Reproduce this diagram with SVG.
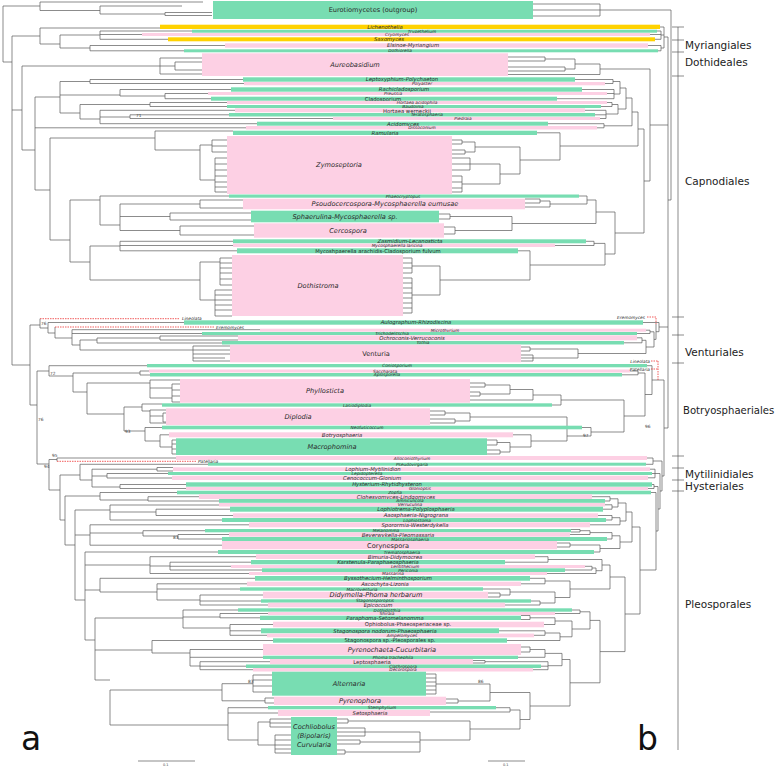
<svg xmlns="http://www.w3.org/2000/svg" width="778" height="766" viewBox="0 0 778 766">
<style>
.g{fill:#78DDB2}.p{fill:#FDD0E4}.y{fill:#FFD200}
text{font-family:"DejaVu Sans","Liberation Sans",sans-serif;fill:#2a2a2a;text-anchor:middle}
.L{font-size:6.6px}.M{font-size:5.3px}.S{font-size:4.3px}.i{font-style:italic}
.ord{font-size:10.5px;text-anchor:start;fill:#222}
.bs{font-size:4.3px;fill:#444;text-anchor:start}
.big{font-size:33px;text-anchor:start;fill:#111}
.tree{fill:none;stroke:#5a5a5a;stroke-width:0.7}
.red{fill:none;stroke:#e33;stroke-width:0.8;stroke-dasharray:1.5 1}
.rl{font-size:4.3px;font-style:italic}
</style>
<rect width="778" height="766" fill="#fff"/>
<g id="connectors">
<path class="tree" d="M3,6 V62 M3,6 H40 M40,2 V10.5 M40,2 H203 M40,10.5 H100 M100,6 V14 M100,6 H182 M100,14 H165 M165,12.5 V15.5 M165,12.5 H212 M165,15.5 H212
M3,62 H12 M12,36 V365 M12,36 H40 M12,110 H22 M12,365 H30
M40,28 V44 M40,28 H160 M40,44 H60 M60,35 V48 M60,35 H100 M60,48 H90 M100,31 V39.3 M100,31 H192 M100,34.5 H142 M100,39.3 H168 M90,45.5 V50.8 M90,45.5 H225 M90,50.8 H184
M22,66 V150 M22,66 H160 M22,150 H35 M160,58 V74 M160,58 H202 M160,74 H202 M160,66 H175 M175,62 V70 M175,62 H202 M175,70 H202
M35,97 V190 M35,97 H60 M35,127.8 H246 M35,190 H50
M60,81.5 V113 M60,81.5 H90 M60,95 H120 M60,113 H80 M90,79.5 V83.5 M90,79.5 H243 M90,83.5 H244
M120,89.5 V96 M120,89.5 H231 M120,96 H165 M165,93.5 V98.7 M165,93.5 H208 M165,98.7 H211
M80,104.5 V119 M80,104.5 H150 M150,102.5 V106.5 M150,102.5 H227 M150,106.5 H227 M80,119 H100 M100,110.3 V123.7 M100,110.3 H235 M100,117 H130 M130,114.8 V118.5 M130,114.8 H229 M130,118.5 H333 M100,123.7 H257
M50,138 V240 M50,138 H155 M155,131 V150 M155,131 H233 M155,150 H200
M200,145 V180 M200,145 H212 M212,140 V152 M212,140 H227 M212,146 H227 M212,152 H227 M200,180 H215 M215,158 V192 M215,158 H227 M215,164 H227 M215,170 H227 M215,176 H227 M215,182 H227 M215,187 H227 M215,192 H227
M50,240 H70 M70,200 V262 M70,200 H100 M100,196 V225 M100,196 H229 M100,225 H120 M120,204 V230.5 M120,204 H200 M200,200 V208 M200,200 H243 M200,208 H243 M120,216.5 H170 M170,213 V220 M170,213 H251 M170,220 H251 M120,230.5 H180 M180,226 V235 M180,226 H254 M180,235 H254
M70,262 H90 M90,246 V280 M90,246 H120 M120,241.3 V250.8 M120,241.3 H233 M120,245.5 H233 M120,250.8 H237 M90,280 H200
M200,262 V300 M200,262 H220 M200,300 H215 M220,258 V285 M215,290 V316 M220,258 H232 M220,263 H232 M220,268 H232 M220,273 H232 M220,279 H232 M220,285 H232 M215,290 H232 M215,295 H232 M215,300 H232 M215,305 H232 M215,310 H232 M215,316 H232
M30,325 V405 M30,325 H40 M30,405 H37 M40,318.7 V328 M40,328 H48 M48,322.5 V333 M48,322.5 H184 M48,333 H55 M55,327 V338 M55,338 H72
M72,329.7 V345 M72,329.7 H260 M72,333.5 H202 M72,345 H80 M80,340 V350 M80,340 H97 M97,338 V343 M97,338 H160 M160,336 V340 M160,336 H238 M160,340 H238 M97,343 H222
M80,350 H193 M193,346 V361 M193,346 H230 M193,350 H230 M193,354 H230 M193,358 H225 M193,361 H230
M37,371 V464 M37,371 H49 M37,464 H49 M49,365.7 V376 M49,365.7 H147 M49,376 H73 M73,373 V392 M73,373 H140 M140,371 V375 M140,371 H149 M140,375 H150 M73,392 H87
M87,383 V414 M87,383 H150 M150,380 V398 M150,380 H180 M150,388 H172 M150,398 H172 M172,384 V402 M172,384 H180 M172,390 H180 M172,396 H180 M172,402 H180
M87,414 H124 M124,407 V431 M124,407 H142 M142,404 V411 M142,404 H162 M142,411 H150 M150,410 V423 M150,410 H166 M150,416 H163 M163,413 V422 M163,413 H166 M163,422 H166 M150,423 H166
M124,431 H145 M145,427.5 V441 M145,427.5 H162 M145,441 H160 M160,434.8 V447 M160,434.8 H169 M160,447 H172 M172,440 V454 M172,440 H176 M172,444 H176 M172,449 H176 M172,454 H176
M49,459.5 V490 M49,459.5 H57 M57,458 V461.3 M57,458 H176 M49,490 H60 M60,475 V520 M60,475 H80 M60,520 H65
M80,464.3 V480 M80,464.3 H208 M80,480 H92 M92,469.2 V487 M92,469.2 H157 M157,467.5 V471 M157,467.5 H173 M157,471 H173 M92,476 H107 M107,473.5 V478 M107,473.5 H168 M107,478 H172 M92,487 H120 M120,484.5 V488.5 M120,484.5 H186 M120,488.5 H186
M65,496 V545 M65,496 H100 M100,492.5 V500 M100,492.5 H177 M100,500 H148 M148,496.7 V501 M148,496.7 H199 M148,501 H219 M65,545 H75
M75,510 V600 M75,510 H110 M110,505 V520 M110,505 H219 M110,512 H156 M156,509.2 V515.5 M156,509.2 H230 M156,515.5 H233 M110,520 H222
M75,535 H90 M90,524.8 V545.2 M90,524.8 H249 M90,533 H143 M143,530.7 V536 M143,530.7 H205 M143,536 H178 M178,534.5 V539 M178,534.5 H229 M178,539 H222 M90,545.2 H222 M75,600 H85
M85,552 V640 M85,552 H218 M85,565 H150 M150,556.7 V573.5 M150,556.7 H256 M150,566 H170 M170,562.2 V570 M170,562.2 H251 M170,566.3 H231 M170,570 H262 M150,573.5 H249
M85,590 H100 M100,578.3 V592 M100,578.3 H255 M100,592 H157 M157,583.8 V600 M157,583.8 H247 M157,589 H240 M157,600 H200 M200,595 V605 M200,595 H263 M200,601 H261 M200,605 H268 M85,640 H95
M95,618 V680 M95,618 H183 M183,610 V628 M183,610 H238 M183,617 H220 M220,613.5 V617.8 M220,613.5 H268 M220,617.8 H260 M183,628 H230 M230,624.5 V635.3 M230,624.5 H273 M230,630.8 H261 M230,635.3 H267
M95,650 H152 M152,640.5 V653 M152,640.5 H273 M152,653 H190 M190,649.5 V666 M190,649.5 H263 M190,657.3 H263 M190,666 H200 M200,661.7 V669.7 M200,661.7 H270 M200,666.2 H246 M200,669.7 H253 M95,680 H110
M110,690 V725 M110,690 H222 M222,683.7 V700.8 M222,683.7 H253 M253,675 V692 M253,675 H272 M253,680 H272 M253,686 H272 M253,692 H272 M222,700.8 H265 M265,698 V703 M265,698 H274 M265,703 H274
M110,725 H228 M228,707.7 V740 M228,707.7 H268 M228,713 H278 M228,740 H258 M258,722 V745 M258,722 H270 M270,719 V727 M270,719 H291 M270,723 H291 M270,727 H291 M258,745 H275 M275,735 V753 M275,735 H291 M275,740 H291 M275,745 H291 M275,749 H291 M275,753 H291"/>
<path class="tree" d="M533,4 H600 M533,10 H600 M533,16 H600 M600,4 V16 M600,10 H671 M671,10 V200 M668,200 H671 M668,37 V428
M660,27 H664 M657,31 H661 M650,34.5 H661 M655,39.3 H661 M661,31 V39.3 M661,35 H664 M648,45.5 H661 M658,50.8 H661 M661,45.5 V50.8 M661,48 H664 M664,27 V48 M664,37 H668
M508,57 H545 M508,61 H545 M545,57 V61 M545,59 H575 M508,67 H565 M508,71 H565 M565,67 V71 M565,69 H575 M575,59 V69 M575,64 H600 M508,74.5 H600 M600,64 V74.5 M600,69 H650 M650,69 V181 M644,181 H650 M650,125 H668
M575,79.5 H613 M605,83.5 H613 M613,79.5 V83.5 M582,89.5 H614 M607,93.5 H614 M557,98.7 H614 M614,89.5 V98.7 M607,102.5 H612 M601,106.5 H612 M612,102.5 V106.5
M585,110.3 H606 M595,114.8 H606 M600,118.5 H606 M606,110.3 V118.5 M548,123.7 H604 M597,127.8 H604 M604,123.7 V127.8
M613,81.5 H620 M614,94 H620 M620,81.5 V94 M612,104.5 H618 M606,114 H618 M618,104.5 V114 M620,88 H626 M618,109 H626 M626,88 V109 M626,98 H632 M604,125.8 H632 M632,98 V125.8
M452,140 H462 M452,144 H462 M462,140 V144 M462,142 H475 M452,150 H465 M452,154 H465 M465,150 V154 M465,152 H475 M475,142 V152 M475,147 H520 M452,158 H470 M452,164 H470 M452,170 H470 M470,158 V170 M470,164 H500 M452,176 H462 M452,182 H462 M452,188 H462 M452,192 H462 M462,176 V192 M462,184 H500 M500,164 V184 M500,174 H520 M520,147 V174 M520,160 H560
M537,132.8 H560 M560,132.8 V160 M632,112 H638 M560,146 H638 M638,112 V146 M638,129 H644 M644,129 V233
M579,196 H587 M525,199 H540 M525,203 H540 M540,199 V203 M540,201 H550 M525,207 H550 M550,201 V207 M550,204 H587 M587,196 V204
M439,214 H450 M439,219 H450 M450,214 V219 M450,216.5 H512 M444,227 H455 M444,234 H455 M455,227 V234 M455,230.5 H512 M512,216.5 V230.5
M587,200 H596 M512,223.5 H596 M596,200 V223.5 M586,241.3 H594 M555,245.5 H594 M594,241.3 V245.5
M403,258 H412 M403,263 H412 M403,268 H412 M403,273 H412 M403,278 H412 M403,283 H412 M403,288 H412 M403,293 H412 M403,298 H412 M403,303 H412 M403,308 H412 M403,313 H412 M412,258 V273 M412,278 V313 M412,266 H440 M412,295 H440 M440,266 V295 M440,280 H530 M518,250.8 H530 M530,250.8 V280
M594,243.4 H605 M530,265 H605 M605,243.4 V265 M596,212 H615 M605,254 H615 M615,212 V254 M615,233 H644
M646,330.2 H650 M637,333.5 H650 M650,330.2 V333.5 M637,337.8 H642 M624,342.8 H642 M642,337.8 V342.8
M521,347 H530 M521,351 H530 M530,347 V351 M530,349 H578 M521,355 H533 M521,358 H533 M521,361 H533 M533,355 V361 M533,358 H578 M578,349 V358 M578,353.5 H646
M642,340.3 H646 M646,340.3 V353.5 M650,331.8 H654 M646,347 H654 M654,331.8 V347 M654,339.4 H656 M656,324 V339.4 M656,331.7 H659 M643,322.5 H659 M659,322.5 V331.7 M659,327 H668
M470,383 H485 M470,387 H485 M485,383 V387 M485,385 H510 M470,392 H480 M470,396 H480 M480,392 V396 M480,394 H510 M510,385 V394 M510,389.5 H533 M470,400 H533 M533,389.5 V400 M533,395 H561 M552,405 H561 M561,395 V405
M430,411 H445 M430,415 H445 M445,411 V415 M445,413 H470 M430,419 H455 M430,423 H455 M455,419 V423 M455,421 H470 M470,413 V421 M470,417 H567
M487,440 H497 M487,445 H497 M497,440 V445 M497,442.5 H510 M487,450 H500 M487,454 H500 M500,450 V454 M500,452 H510 M510,442.5 V452 M510,447 H531 M513,434.8 H531 M531,434.8 V447 M531,441 H567 M567,417 V441
M582,427.5 H591 M567,436 H591 M591,427.5 V436 M561,400 H624 M591,432 H624 M624,400 V432
M630,371 H638 M622,374.8 H638 M638,371 V374.8 M638,373 H645 M624,416 H645 M645,373 V416 M647,365.7 H652 M645,394.5 H652 M652,365.7 V394.5 M652,380 H664
M647,458 H653 M646,464.3 H653 M653,458 V464.3 M650,469.2 H655 M652,473.5 H655 M648,477.8 H655 M655,469.2 V477.8 M652,484.5 H654 M648,488.5 H654 M654,484.5 V488.5
M592,496.7 H610 M605,501 H610 M610,496.7 V501 M605,504.8 H612 M603,509.2 H612 M612,504.8 V509.2 M598,515.5 H612 M606,520 H612 M612,515.5 V520 M610,498.8 H618 M612,507 H618 M618,498.8 V507 M612,517.7 H620 M590,524.8 H620 M620,517.7 V524.8 M618,503 H626 M620,521 H626 M626,503 V521
M571,529.5 H580 M571,532 H580 M580,529.5 V532 M580,530.7 H590 M570,534.5 H590 M590,530.7 V534.5 M607,539 H612 M590,532.6 H612 M612,532.6 V539 M557,543 H570 M557,547 H570 M570,543 V547 M570,545 H600 M594,552 H600 M600,545 V552 M612,535.8 H620 M600,548.5 H620 M620,535.8 V548.5
M535,556.7 H548 M505,562.2 H548 M548,556.7 V562.2 M585,566.3 H592 M565,570 H592 M592,566.3 V570 M592,568 H596 M547,573.5 H596 M596,568 V573.5 M548,559.5 H602 M596,570.7 H602 M602,559.5 V570.7
M530,578.3 H545 M521,583.8 H545 M545,578.3 V583.8 M488,593 H500 M488,597 H500 M500,593 V597 M500,595 H510 M483,589 H510 M510,589 V595 M531,601 H540 M505,605 H540 M540,601 V605 M510,592 H555 M540,603 H555 M555,592 V603 M545,581 H570 M555,597.5 H570 M570,581 V597.5 M602,565 H610 M570,589 H610 M610,565 V589
M572,610 H580 M555,613.5 H580 M580,610 V613.5 M521,615.5 H530 M521,619.5 H530 M530,615.5 V619.5 M530,617.8 H555 M544,624.5 H555 M555,617.8 V624.5 M499,630.8 H545 M534,635.3 H545 M545,630.8 V635.3 M545,633 H560 M507,640.5 H560 M560,633 V640.5 M555,621 H572 M560,636.8 H572 M572,621 V636.8 M580,611.8 H590 M572,629 H590 M590,611.8 V629
M521,647 H530 M521,652 H530 M530,647 V652 M530,649.5 H545 M518,657.3 H545 M545,649.5 V657.3 M473,660.5 H485 M473,663 H485 M485,660.5 V663 M485,661.7 H548 M541,666.2 H548 M533,669.7 H548 M548,661.7 V669.7 M545,653.4 H562 M548,665.7 H562 M562,653.4 V665.7
M426,674 H436 M426,678 H436 M426,682 H436 M426,686 H436 M426,690 H436 M426,694 H436 M436,674 V694 M436,684 H470 M446,699 H458 M446,703 H458 M458,699 V703 M458,701 H490 M470,684 H490 M490,684 V701
M496,707.7 H510 M430,712 H510 M510,707.7 V712
M337,719 H348 M337,723 H348 M348,719 V723 M348,721 H470 M337,728 H365 M337,732 H365 M337,736 H365 M365,728 V736 M365,732 H420 M337,740 H360 M337,744 H360 M360,740 V744 M360,742 H420 M337,750 H345 M337,754 H345 M345,750 V754 M345,752 H420 M420,732 V752 M420,740 H470 M470,721 V740 M470,729 H520 M510,710 H520 M520,710 V729
M490,692.5 H530 M520,719.5 H530 M530,692.5 V719.5 M562,659.5 H570 M530,706 H570 M570,659.5 V706 M590,620.4 H600 M570,682.8 H600 M600,620.4 V682.8
M626,512 H632 M620,542 H632 M632,512 V542 M610,577 H625 M600,651.6 H625 M625,577 V651.6 M632,527 H640 M625,614 H640 M640,527 V614
M651,492.5 H656 M640,570 H656 M656,492.5 V570 M654,486.5 H658 M656,531 H658 M658,486.5 V531 M655,473.5 H660 M658,509 H660 M660,473.5 V509 M653,461 H662 M660,491 H662 M662,461 V491 M662,476 H664 M664,380 V476 M664,428 H668"/>
<path class="red" d="M40,318.7 H180 M55,327 H215 M57,461.3 H197 M647,317 H656 V324 M651,361 H658 M651,369 H658 M658,361 V381"/>
<path class="tree" d="M678,27 V750 M672,27 H684 M672,40 H684 M672,52 H684 M672,76 H684 M672,317 H684 M672,335 H684 M672,363 H684 M672,456 H684 M672,468 H684 M672,480 H684 M672,491 H684 M138,761 H195 M488,761 H525"/>
</g>
<g id="n-eurotio"><rect class="g" x="213" y="1" width="320" height="18"/><text class="L" x="373" y="12.3">Eurotiomycetes (outgroup)</text></g>
<g id="n-lichenothelia"><rect class="y" x="160" y="24.7" width="500" height="4.3"/><text class="M i" x="385" y="28.85">Lichenothelia</text></g>
<g id="n-trypethelium"><rect class="g" x="192" y="29.7" width="465" height="3"/><text class="S i" x="422" y="32.7">Trypethelium</text></g>
<g id="n-cryomyces"><rect class="p" x="142" y="33" width="508" height="3"/><text class="S i" x="397" y="36">Cryomyces</text></g>
<g id="n-saxomyces"><rect class="y" x="168" y="37.3" width="487" height="4"/><text class="M i" x="389" y="41.15">Saxomyces</text></g>
<g id="n-elsinoe"><rect class="p" x="225" y="43.3" width="423" height="4.4"/><text class="M i" x="413" y="47.35">Elsinoe-Myriangium</text></g>
<g id="n-stephanella"><rect class="g" x="184" y="49.3" width="474" height="3"/><text class="S i" x="400" y="52.3">Dothiorella</text></g>
<g id="n-aureobasidium"><rect class="p" x="202" y="53.3" width="306" height="22.7"/><text class="L i" x="355" y="67.3">Aureobasidium</text></g>
<g id="n-leptoxyphium"><rect class="g" x="243" y="77.3" width="332" height="4.4"/><text class="M i" x="402" y="81.35">Leptoxyphium-Polychaeton</text></g>
<g id="n-polyaster"><rect class="p" x="244" y="82" width="361" height="3.3"/><text class="S i" x="422" y="85.1">Polyaster</text></g>
<g id="n-rachicladosporium"><rect class="g" x="231" y="87.3" width="351" height="4.4"/><text class="M i" x="404" y="91.35">Rachicladosporium</text></g>
<g id="n-preussia"><rect class="p" x="208" y="92" width="399" height="3"/><text class="S i" x="393" y="95">Preussia</text></g>
<g id="n-cladosporium"><rect class="g" x="211" y="96.7" width="346" height="4"/><text class="M" x="383" y="100.55">Cladosporium</text></g>
<g id="n-hacidophila"><rect class="p" x="227" y="101" width="380" height="3"/><text class="S i" x="417" y="103.9">Hortaea acidophila</text></g>
<g id="n-baudoinia"><rect class="g" x="227" y="105" width="374" height="3"/><text class="S i" x="413" y="107.7">Baudoinia</text></g>
<g id="n-hwerneckii"><rect class="p" x="235" y="108.3" width="350" height="4"/><text class="M" x="407" y="112.5">Hortaea werneckii</text></g>
<g id="n-teratosphaeria"><rect class="g" x="229" y="113" width="366" height="3.5"/><text class="S i" x="427" y="116.3">Teratosphaeria</text></g>
<g id="n-piedraia"><rect class="p" x="333" y="117" width="267" height="3"/><text class="S i" x="463" y="120">Piedraia</text></g>
<g id="n-acidomyces"><rect class="g" x="257" y="121.7" width="291" height="4"/><text class="M i" x="403" y="125.55">Acidomyces</text></g>
<g id="n-dissoconium"><rect class="p" x="246" y="126" width="351" height="3.5"/><text class="S i" x="422" y="129.3">Dissoconium</text></g>
<g id="n-ramularia"><rect class="g" x="233" y="130.7" width="304" height="4.3"/><text class="M i" x="385" y="134.65">Ramularia</text></g>
<g id="n-zymoseptoria"><rect class="p" x="227" y="136" width="225" height="58"/><text class="L i" x="339" y="167.3">Zymoseptoria</text></g>
<g id="n-phaeocryptopus"><rect class="g" x="229" y="194.5" width="350" height="3.2"/><text class="S i" x="403" y="197.6">Phaeocryptopus</text></g>
<g id="n-pseudocercospora"><rect class="p" x="243" y="198.7" width="282" height="10.6"/><text class="L i" x="385" y="206.3">Psoudocercospora-Mycosphaerella eumusae</text></g>
<g id="n-sphaerulina"><rect class="g" x="251" y="210.7" width="188" height="11.6"/><text class="L i" x="345" y="218.8">Sphaerulina-Mycosphaerella sp.</text></g>
<g id="n-cercospora"><rect class="p" x="254" y="223.3" width="190" height="14.4"/><text class="L i" x="348" y="232.8">Cercospora</text></g>
<g id="n-zasmidium"><rect class="g" x="233" y="239.3" width="353" height="4"/><text class="M i" x="410" y="243.15">Zasmidium-Lecanosticta</text></g>
<g id="n-mlaricina"><rect class="p" x="233" y="243.6" width="322" height="3.4"/><text class="S i" x="397" y="246.8">Mycosphaerella laricina</text></g>
<g id="n-marachidis"><rect class="g" x="237" y="248.3" width="281" height="5"/><text class="M" x="378" y="252.65">Mycoshpaerella arachidis-Cladosporium fulvum</text></g>
<g id="n-dothistroma"><rect class="p" x="232" y="255" width="171" height="61"/><text class="L i" x="318" y="288.3">Dothistroma</text></g>
<g id="n-aulographum"><rect class="g" x="184" y="320.3" width="459" height="4.4"/><text class="M i" x="416" y="324.35">Aulographum-Rhizodiscina</text></g>
<g id="n-microthyrium"><rect class="p" x="260" y="328.7" width="386" height="3"/><text class="S i" x="445" y="331.7">Microthyrium</text></g>
<g id="n-trichodelitschia"><rect class="g" x="202" y="332" width="435" height="3"/><text class="S i" x="392" y="335">Trichodelitschia</text></g>
<g id="n-ochroconis"><rect class="p" x="238" y="335.3" width="399" height="5"/><text class="M i" x="412" y="339.65">Ochroconis-Verrucoconis</text></g>
<g id="n-tothia"><rect class="g" x="222" y="341" width="402" height="3.5"/><text class="S i" x="423" y="344.3">Tothia</text></g>
<g id="n-venturia"><rect class="p" x="230" y="344.7" width="291" height="17.6"/><text class="L" x="376" y="355.8">Venturia</text></g>
<g id="n-coniosporium"><rect class="g" x="147" y="364" width="500" height="3.3"/><text class="S i" x="397" y="367.2">Coniosporium</text></g>
<g id="n-saccharata"><rect class="p" x="149" y="369.5" width="481" height="3"/><text class="S i" x="385" y="372.5">Saccharata</text></g>
<g id="n-aplosporella"><rect class="g" x="150" y="373" width="472" height="3.5"/><text class="S i" x="387" y="376.3">Aplosporella</text></g>
<g id="n-phyllosticta"><rect class="p" x="180" y="379" width="290" height="23.7"/><text class="L i" x="325" y="393.3">Phyllosticta</text></g>
<g id="n-lasiodiplodia"><rect class="g" x="162" y="403.3" width="390" height="3.4"/><text class="S i" x="357" y="406.5">Lasiodiplodia</text></g>
<g id="n-diplodia"><rect class="p" x="166" y="408.3" width="264" height="16.7"/><text class="L i" x="298" y="418.8">Diplodia</text></g>
<g id="n-neofusicoccum"><rect class="g" x="162" y="425.7" width="420" height="3.6"/><text class="S i" x="367" y="429">Neofusicoccum</text></g>
<g id="n-botryosphaeria"><rect class="p" x="169" y="432.3" width="344" height="5"/><text class="M i" x="342" y="436.65">Botryosphaeria</text></g>
<g id="n-macrophomina"><rect class="g" x="176" y="438.3" width="311" height="16.7"/><text class="L i" x="332" y="449">Macrophomina</text></g>
<g id="n-allo"><rect class="p" x="176" y="456" width="471" height="4"/><text class="S i" x="412" y="459.5">Alloconiothyrium</text></g>
<g id="n-pseudovirgaria"><rect class="g" x="208" y="462.7" width="438" height="3"/><text class="S i" x="412" y="465.7">Pseudovirgaria</text></g>
<g id="n-lophium"><rect class="p" x="173" y="467.3" width="477" height="3.7"/><text class="M i" x="373" y="471.05">Lophium-Mytilinidion</text></g>
<g id="n-lepidopterella"><rect class="g" x="168" y="472" width="484" height="3"/><text class="S i" x="367" y="475">Lepidopterella</text></g>
<g id="n-cenococcum"><rect class="p" x="172" y="475.7" width="476" height="4.3"/><text class="M i" x="372" y="479.65">Cenococcum-Glonium</text></g>
<g id="n-hysterium"><rect class="g" x="186" y="482.3" width="466" height="4.4"/><text class="M i" x="387" y="486.35">Hysterium-Rhytidhysteron</text></g>
<g id="n-gloniopsis"><rect class="p" x="186" y="487" width="462" height="3"/><text class="S i" x="420" y="490">Gloniopsis</text></g>
<g id="n-zopfia"><rect class="g" x="177" y="490.7" width="474" height="3.6"/><text class="S i" x="395" y="494">Zopfia</text></g>
<g id="n-clohesyomyces"><rect class="p" x="199" y="494.3" width="393" height="4.7"/><text class="M i" x="396" y="498.55">Clohesyomyces-Lindgomyces</text></g>
<g id="n-amniculicola"><rect class="g" x="219" y="499" width="386" height="3.8"/><text class="S i" x="410" y="502.4">Amniculicola</text></g>
<g id="n-verruculina"><rect class="p" x="219" y="503" width="386" height="3.5"/><text class="S i" x="410" y="506.3">Verruculina</text></g>
<g id="n-lophiotrema"><rect class="g" x="230" y="506.7" width="373" height="5"/><text class="M i" x="416" y="511.05">Lophiotrema-Polyplosphaeria</text></g>
<g id="n-aaosphaeria"><rect class="p" x="233" y="513.3" width="365" height="4.4"/><text class="M i" x="416" y="517.35">Aaosphaeria-Nigrograna</text></g>
<g id="n-lophiostoma"><rect class="g" x="222" y="518" width="384" height="4"/><text class="S i" x="417" y="521.5">Lophiostoma</text></g>
<g id="n-sporormia"><rect class="p" x="249" y="522.3" width="341" height="5"/><text class="M i" x="415" y="526.65">Sporormia-Westerdykella</text></g>
<g id="n-melanomma"><rect class="g" x="205" y="529" width="366" height="3.3"/><text class="S i" x="386" y="532">Melanomma</text></g>
<g id="n-beverwykella"><rect class="p" x="229" y="532.3" width="341" height="4.4"/><text class="M i" x="398" y="536.7">Beverwykella-Pleomassaria</text></g>
<g id="n-massariosphaeria"><rect class="g" x="222" y="537" width="385" height="4"/><text class="S i" x="410" y="540.5">Massariosphaeria</text></g>
<g id="n-corynespora"><rect class="p" x="222" y="541" width="335" height="8.3"/><text class="L" x="388" y="547.5">Corynespora</text></g>
<g id="n-trematosphaeria"><rect class="g" x="218" y="550" width="376" height="4"/><text class="S i" x="402" y="553.5">Trematosphaeria</text></g>
<g id="n-bimuria"><rect class="p" x="256" y="554.3" width="279" height="4.7"/><text class="M i" x="395" y="558.55">Bimuria-Didymocrea</text></g>
<g id="n-karstenula"><rect class="g" x="251" y="560" width="254" height="4.3"/><text class="M i" x="378" y="564.05">Karstenula-Paraphaeosphaeria</text></g>
<g id="n-lentithecium"><rect class="p" x="231" y="565" width="354" height="3"/><text class="S i" x="405" y="568">Lentithecium</text></g>
<g id="n-periconia"><rect class="g" x="262" y="568.3" width="303" height="3.7"/><text class="S i" x="408" y="571.7">Periconia</text></g>
<g id="n-massarina"><rect class="p" x="249" y="572" width="298" height="3"/><text class="S i" x="393" y="575">Massarina</text></g>
<g id="n-byssothecium"><rect class="g" x="255" y="576" width="275" height="4.7"/><text class="M i" x="388" y="580.15">Byssothecium-Helminthosporium</text></g>
<g id="n-ascochyta"><rect class="p" x="247" y="581.7" width="274" height="4.3"/><text class="M i" x="385" y="585.65">Ascochyta-Lizonia</text></g>
<g id="n-macroventuria"><rect class="g" x="240" y="587.3" width="243" height="3.4"/><text class="S i" x="362" y="590.5">Macroventuria</text></g>
<g id="n-didymella"><rect class="p" x="263" y="591.7" width="225" height="6.6"/><text class="L i" x="376" y="597.3">Didymella-Phoma herbarum</text></g>
<g id="n-stagonosporopsis"><rect class="g" x="261" y="599.3" width="270" height="3.4"/><text class="S i" x="375" y="602.3">Stagonosporopsis</text></g>
<g id="n-epicoccum"><rect class="p" x="268" y="602.7" width="237" height="4.6"/><text class="M i" x="378" y="607.1">Epicoccum</text></g>
<g id="n-dothidotthia"><rect class="g" x="238" y="608.3" width="334" height="3.4"/><text class="S i" x="387" y="611.5">Dothidotthia</text></g>
<g id="n-shiraia"><rect class="p" x="268" y="612" width="287" height="3"/><text class="S i" x="387" y="615">Shiraia</text></g>
<g id="n-paraphoma"><rect class="g" x="260" y="615.7" width="261" height="4.3"/><text class="M i" x="385" y="619.65">Paraphoma-Setomelanomma</text></g>
<g id="n-ophiobolus"><rect class="p" x="273" y="621.7" width="271" height="5.6"/><text class="M" x="408" y="626.35">Ophiobolus-Phaeosperiaceae sp.</text></g>
<g id="n-stagnodorum"><rect class="g" x="261" y="628.3" width="238" height="5"/><text class="M i" x="385" y="632.65">Stagonospora nodorum-Phaeosphaeria</text></g>
<g id="n-ampelomyces"><rect class="p" x="267" y="633.6" width="267" height="3.7"/><text class="S i" x="402" y="636.8">Ampelomyces</text></g>
<g id="n-stagsp"><rect class="g" x="273" y="638.3" width="234" height="4.4"/><text class="M" x="390" y="642.35">Stagonospora sp.-Pleosporales sp.</text></g>
<g id="n-pyrenochaeta"><rect class="p" x="263" y="644" width="258" height="11"/><text class="L i" x="392" y="651.8">Pyrenochaeta-Cucurbitaria</text></g>
<g id="n-phomatrach"><rect class="g" x="263" y="655.7" width="255" height="3.3"/><text class="S i" x="393" y="658.8">Phoma trachephila</text></g>
<g id="n-leptosphaeria"><rect class="p" x="270" y="659" width="203" height="5.3"/><text class="M" x="372" y="663.55">Leptosphaeria</text></g>
<g id="n-clathrospora"><rect class="g" x="246" y="664.5" width="295" height="3.5"/><text class="S i" x="403" y="667.7">Clathrospora</text></g>
<g id="n-decorospora"><rect class="p" x="253" y="668" width="280" height="3.5"/><text class="S i" x="403" y="671.2">Decorospora</text></g>
<g id="n-alternaria"><rect class="g" x="272" y="671.7" width="154" height="24"/><text class="L i" x="349" y="686.3">Alternaria</text></g>
<g id="n-pyrenophora"><rect class="p" x="274" y="696.7" width="172" height="8.3"/><text class="L i" x="360" y="703.3">Pyrenophora</text></g>
<g id="n-stemphylium"><rect class="g" x="268" y="706" width="228" height="3.3"/><text class="S i" x="382" y="709.2">Stemphylium</text></g>
<g id="n-setosphaeria"><rect class="p" x="278" y="710" width="152" height="6"/><text class="M i" x="370" y="714.85">Setosphaeria</text></g>
<g id="n-cochliobolus"><rect class="g" x="291" y="717" width="46" height="38"/><text class="L i" x="314" y="729.3">Cochliobolus</text><text class="L i" x="314" y="738.3">(Bipolaris)</text><text class="L i" x="314" y="747.3">Curvularia</text></g>
<g id="side-labels">
<text class="rl" x="182" y="320.2" style="text-anchor:start">Lineolata</text>
<text class="rl" x="216" y="328.5" style="text-anchor:start">Eremomyces</text>
<text class="rl" x="198" y="462.8" style="text-anchor:start">Patellaria</text>
<text class="rl" x="645" y="318.5" style="text-anchor:end">Eremomyces</text>
<text class="rl" x="650" y="362.5" style="text-anchor:end">Lineolata</text>
<text class="rl" x="650" y="370.5" style="text-anchor:end">Patellaria</text>
<text class="bs" x="41" y="325">76</text>
<text class="bs" x="50" y="375">72</text>
<text class="bs" x="38" y="421">76</text>
<text class="bs" x="125" y="433">93</text>
<text class="bs" x="52" y="457">95</text>
<text class="bs" x="44" y="468">94</text>
<text class="bs" x="136" y="117">71</text>
<text class="bs" x="173" y="539">83</text>
<text class="bs" x="248" y="683">83</text>
<text class="bs" x="478" y="683">86</text>
<text class="bs" x="645" y="428">96</text>
<text class="bs" x="583" y="437">97</text>
<text class="bs" x="163" y="766" style="font-size:3.5px">0.1</text>
<text class="bs" x="503" y="766" style="font-size:3.5px">0.1</text>
</g>
<g id="orders">
<text class="ord" x="685" y="48.7">Myriangiales</text>
<text class="ord" x="685" y="65.7">Dothideales</text>
<text class="ord" x="685" y="184.7">Capnodiales</text>
<text class="ord" x="685" y="355.7">Venturiales</text>
<text class="ord" x="683" y="413.7" style="font-size:10.1px">Botryosphaeriales</text>
<text class="ord" x="685" y="477.7">Mytilinidiales</text>
<text class="ord" x="685" y="489.7">Hysteriales</text>
<text class="ord" x="685" y="607.7">Pleosporales</text>
<text class="big" x="21" y="750">a</text>
<text class="big" x="637" y="750">b</text>
</g>
</svg>
